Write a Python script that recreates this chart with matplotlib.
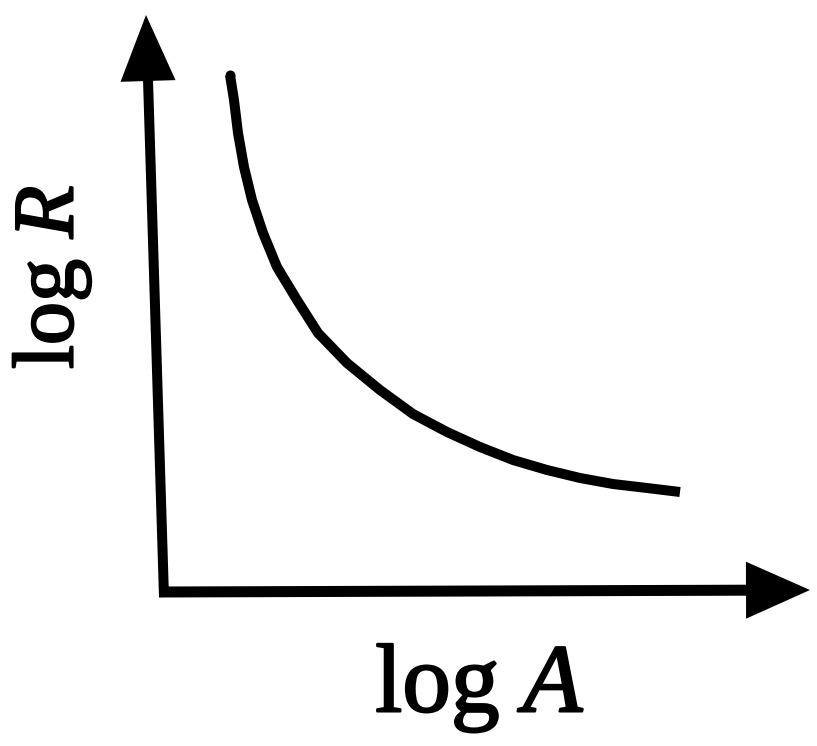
import matplotlib.pyplot as plt
import matplotlib.patheffects as pe

# curve (pixel-like units, y grows downward)
log_a = [230, 234, 238, 244, 252, 263, 277, 297, 318, 347, 380, 413, 447, 480, 513, 547, 580, 613, 647, 680]
log_r = [75, 100, 133, 167, 200, 233, 267, 300, 333, 363, 390, 414, 432, 447, 460, 470, 478, 484, 488, 492]

plt.rcParams['mathtext.fontset'] = 'custom'
plt.rcParams['mathtext.rm'] = 'Liberation Serif'
plt.rcParams['mathtext.it'] = 'Liberation Serif:italic'

fig = plt.figure(figsize=(8.17, 7.46), dpi=100)
ax = fig.add_axes([0, 0, 1, 1])
ax.set_xlim(0, 817)
ax.set_ylim(746, 0)
ax.axis('off')

# axes arrows
ax.arrow(164, 597, -18, -582, width=10, head_width=55, head_length=66,
         length_includes_head=True, color='black', lw=0)
ax.arrow(159, 592, 651, -2, width=11, head_width=57, head_length=64,
         length_includes_head=True, color='black', lw=0)

ax.plot(log_a, log_r, color='black', lw=7.2, solid_capstyle='butt',
        solid_joinstyle='round')
# rounded start of the curve
ax.plot(log_a[:1], log_r[:1], 'o', color='black', ms=7.2, mew=0)

bold = [pe.withStroke(linewidth=1.6, foreground='black')]
ax.text(480, 712, r'$\mathrm{log}\ A$', fontsize=70, ha='center', va='baseline',
        path_effects=bold)
ax.text(94, 277, r'$\mathrm{log}\ R$', fontsize=62, ha='right', va='center',
        rotation=90, path_effects=bold)

fig.savefig('out.png', dpi=100, facecolor='white')
